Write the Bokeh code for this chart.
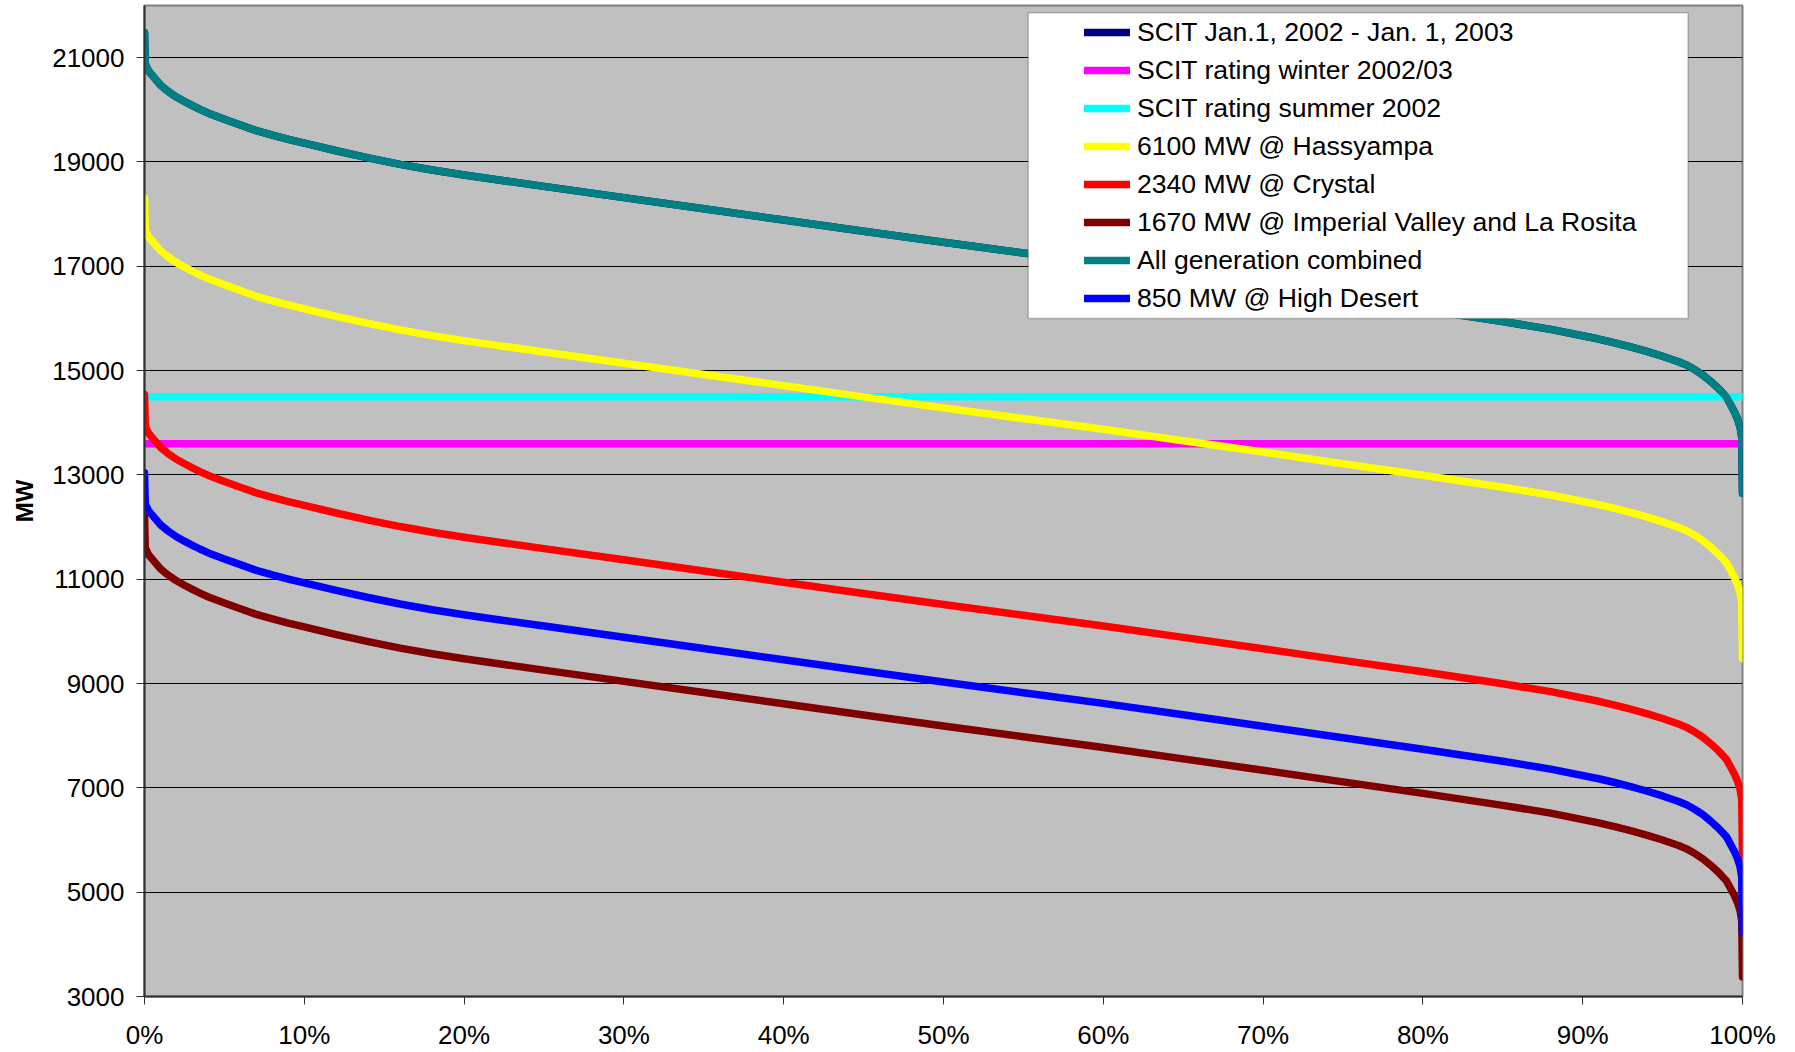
from bokeh.plotting import figure
from bokeh.models import (Range1d, FixedTicker, PrintfTickFormatter, Legend,
                          LegendItem, BoxAnnotation)
from bokeh.embed import file_html
from bokeh.resources import INLINE

# ---- data ----
pct = [0, 0.05, 0.25, 0.5, 0.75, 1, 1.5, 2, 2.5, 3,
       3.5, 4, 5, 6, 7, 8, 9, 10, 12, 14,
       16, 18, 20, 22.5, 25, 30, 35, 40, 45, 50,
       55, 60, 65, 70, 75, 80, 85, 88, 91, 92,
       93, 94, 95, 96, 96.5, 97, 97.5, 98, 98.5, 99,
       99.5, 99.7, 99.85, 99.95, 100]

all_generation = [21480, 20875, 20745, 20655, 20565, 20475, 20350, 20245, 20160, 20080,
                  20005, 19935, 19820, 19710, 19600, 19513, 19433, 19360, 19215, 19080,
                  18955, 18846, 18750, 18640, 18532, 18317, 18102, 17887, 17672, 17460,
                  17255, 17050, 16831, 16613, 16390, 16170, 15940, 15790, 15605, 15533,
                  15455, 15370, 15275, 15170, 15105, 15020, 14920, 14795, 14655, 14490,
                  14205, 14065, 13915, 13725, 12650]
scit_2002 = [21480, 20875, 20745, 20655, 20565, 20475, 20350, 20245, 20160, 20080,
             20005, 19935, 19820, 19710, 19600, 19513, 19433, 19360, 19215, 19080,
             18955, 18846, 18750, 18640, 18532, 18317, 18102, 17887, 17672, 17460,
             17255, 17050, 16831, 16613, 16390, 16170, 15940, 15790, 15605, 15533,
             15455, 15370, 15275, 15170, 15105, 15020, 14920, 14795, 14655, 14490,
             14205, 14065, 13915, 13725, 12650]
hassyampa = [18310, 17700, 17570, 17480, 17390, 17300, 17175, 17070, 16985, 16905,
             16830, 16760, 16645, 16535, 16425, 16338, 16258, 16185, 16040, 15905,
             15780, 15671, 15575, 15465, 15357, 15142, 14927, 14712, 14497, 14285,
             14080, 13875, 13656, 13438, 13215, 12995, 12765, 12615, 12430, 12358,
             12280, 12195, 12100, 11995, 11930, 11845, 11745, 11620, 11480, 11315,
             11030, 10890, 10740, 10550, 9475]
crystal = [14540, 13930, 13800, 13710, 13620, 13530, 13405, 13300, 13215, 13135,
           13060, 12990, 12875, 12765, 12655, 12568, 12488, 12415, 12270, 12135,
           12010, 11901, 11805, 11695, 11587, 11372, 11157, 10942, 10727, 10515,
           10310, 10105, 9886, 9668, 9445, 9225, 8995, 8845, 8660, 8588,
           8510, 8425, 8330, 8225, 8160, 8075, 7975, 7850, 7710, 7545,
           7260, 7120, 6970, 6780, 5705]
high_desert = [13040, 12445, 12315, 12225, 12135, 12045, 11920, 11815, 11730, 11650,
               11575, 11505, 11390, 11280, 11170, 11083, 11003, 10930, 10785, 10650,
               10525, 10416, 10320, 10210, 10102, 9887, 9672, 9457, 9242, 9030,
               8825, 8620, 8401, 8183, 7960, 7740, 7510, 7360, 7175, 7103,
               7025, 6940, 6845, 6740, 6675, 6590, 6490, 6365, 6225, 6060,
               5775, 5635, 5485, 5295, 4220]
imperial_valley = [12200, 11600, 11470, 11380, 11290, 11200, 11075, 10970, 10885, 10805,
                   10730, 10660, 10545, 10435, 10325, 10238, 10158, 10085, 9940, 9805,
                   9680, 9571, 9475, 9365, 9257, 9042, 8827, 8612, 8397, 8185,
                   7980, 7775, 7556, 7338, 7115, 6895, 6665, 6515, 6330, 6258,
                   6180, 6095, 6000, 5895, 5830, 5745, 5645, 5520, 5380, 5215,
                   4930, 4790, 4640, 4450, 3375]
rating_x = [0, 100]
winter_rating = [13600, 13600]
summer_rating = [14500, 14500]

x_ticks = [0, 10, 20, 30, 40, 50, 60, 70, 80, 90, 100]
y_ticks = [3000, 5000, 7000, 9000, 11000, 13000, 15000, 17000, 19000, 21000]

series_labels = ["SCIT Jan.1, 2002 - Jan. 1, 2003", "SCIT rating winter 2002/03",
                 "SCIT rating summer 2002", "6100 MW @ Hassyampa",
                 "2340 MW @ Crystal", "1670 MW @ Imperial Valley and La Rosita",
                 "All generation combined", "850 MW @ High Desert"]

FONT = "Liberation Sans"

p = figure(width=1795, height=1052, output_backend="svg", toolbar_location=None,
           x_range=Range1d(0, 100), y_range=Range1d(3000, 22000),
           min_border_left=144, min_border_right=53, min_border_top=5,
           min_border_bottom=56)
p.background_fill_color = "#C0C0C0"
p.border_fill_color = "white"
p.outline_line_color = "#808080"
p.outline_line_width = 2

p.xgrid.grid_line_color = None
p.ygrid.grid_line_color = "black"
p.ygrid.grid_line_width = 1
p.ygrid.ticker = FixedTicker(ticks=y_ticks)

p.xaxis.ticker = FixedTicker(ticks=x_ticks)
p.xaxis.formatter = PrintfTickFormatter(format="%d%%")
p.yaxis.ticker = FixedTicker(ticks=y_ticks)
p.yaxis.formatter = PrintfTickFormatter(format="%d")

for ax in (p.xaxis[0], p.yaxis[0]):
    ax.axis_line_color = "#303030"
    ax.axis_line_width = 2
    ax.major_tick_line_color = "#303030"
    ax.major_tick_line_width = 1
    ax.major_tick_out = 8
    ax.major_tick_in = 0
    ax.minor_tick_line_color = None
    ax.major_label_text_font = FONT
    ax.major_label_text_font_size = "26px"
    ax.major_label_text_color = "black"

p.xaxis.major_label_standoff = 15
p.yaxis.major_label_standoff = 12
p.yaxis.axis_label = "MW"
p.yaxis.axis_label_text_font = FONT
p.yaxis.axis_label_text_font_size = "24px"
p.yaxis.axis_label_text_font_style = "bold"
p.yaxis.axis_label_text_color = "black"
p.yaxis.axis_label_standoff = 11

LW = 7.5
common = dict(line_width=LW, line_cap="round", line_join="round")
r_navy = p.line(pct, scit_2002, line_color="#000080", **common)
r_mag = p.line(rating_x, winter_rating, line_color="#FF00FF", **common)
r_cyan = p.line(rating_x, summer_rating, line_color="#00FFFF", **common)
r_yel = p.line(pct, hassyampa, line_color="#FFFF00", **common)
r_red = p.line(pct, crystal, line_color="#FF0000", **common)
r_mar = p.line(pct, imperial_valley, line_color="#800000", **common)
r_teal = p.line(pct, all_generation, line_color="#008080", **common)
r_blue = p.line(pct, high_desert, line_color="#0000FF", **common)

renderers = [r_navy, r_mag, r_cyan, r_yel, r_red, r_mar, r_teal, r_blue]

box = BoxAnnotation(left=55.3, right=96.6, top=21860, bottom=16000,
                    fill_color="white", fill_alpha=1.0,
                    line_color="#333333", line_width=1.5)
p.add_layout(box)

legend = Legend(items=[LegendItem(label=l, renderers=[r])
                       for l, r in zip(series_labels, renderers)],
                location=(940, 679), padding=0, spacing=0,
                label_height=38, glyph_height=38, glyph_width=46,
                label_standoff=7, background_fill_alpha=0, border_line_alpha=0,
                label_text_font=FONT, label_text_font_size="26.6px",
                label_text_color="black")
p.add_layout(legend)

open("out.html", "w").write(file_html(p, INLINE))
